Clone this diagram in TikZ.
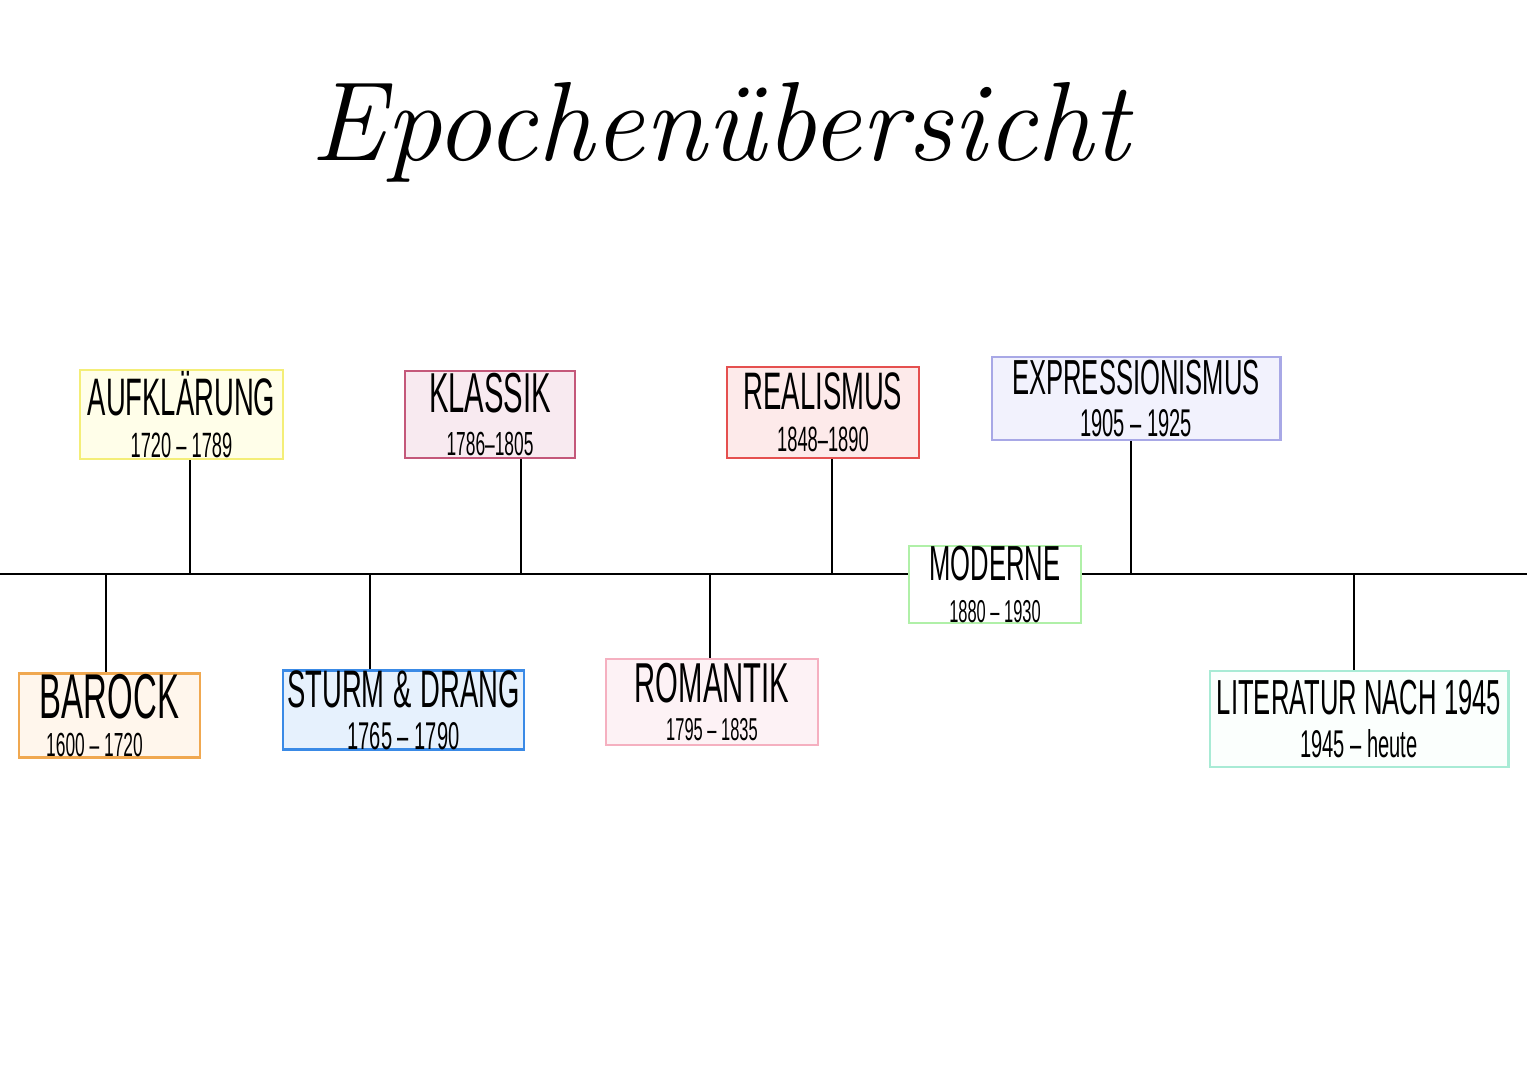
\documentclass[tikz,border=0pt]{standalone}
\usepackage{fontspec}
\newfontfamily\hand{Liberation Sans}[FakeStretch=0.52]
\usetikzlibrary{positioning}

\definecolor{aufklline}{HTML}{F4EE78}
\definecolor{aufklfill}{HTML}{FFFEE9}
\definecolor{klassikline}{HTML}{C4587A}
\definecolor{klassikfill}{HTML}{F8EAF0}
\definecolor{realline}{HTML}{E5504F}
\definecolor{realfill}{HTML}{FDEAEA}
\definecolor{exprline}{HTML}{A8A8E6}
\definecolor{exprfill}{HTML}{F2F2FD}
\definecolor{modline}{HTML}{B0F0A8}
\definecolor{barockline}{HTML}{F0A850}
\definecolor{barockfill}{HTML}{FFF6EC}
\definecolor{sturmline}{HTML}{3A8AE6}
\definecolor{sturmfill}{HTML}{E6F1FD}
\definecolor{romline}{HTML}{F5B0C0}
\definecolor{romfill}{HTML}{FDF2F5}
\definecolor{litline}{HTML}{A8EBD5}
\definecolor{litfill}{HTML}{FBFFFD}

\tikzset{
  epoche/.style={draw,line width=0.8pt,inner sep=0pt,align=center,font=\hand},
  stem/.style={line width=0.6pt}
}

\begin{document}
\begin{tikzpicture}[x=0.01cm,y=-0.01cm]
  \useasboundingbox (0,0) rectangle (1527,1080);

  \node[font=\itshape\fontsize{32}{34}\selectfont] (title) at (720,132) {Epochenübersicht};

  % oben
  \node[epoche,draw=aufklline,fill=aufklfill,minimum width=2.03cm,minimum height=0.89cm] (aufkl) at (181.5,414.5)
    {\fontsize{15}{16}\selectfont AUFKLÄRUNG\\[0pt] \fontsize{10}{10}\selectfont 1720 – 1789};
  \node[epoche,draw=klassikline,fill=klassikfill,minimum width=1.70cm,minimum height=0.87cm] (klassik) at (490,414.5)
    {\fontsize{16}{16}\selectfont KLASSIK\\[0pt] \fontsize{9.5}{10}\selectfont 1786–1805};
  \node[epoche,draw=realline,fill=realfill,minimum width=1.92cm,minimum height=0.91cm] (real) at (823,412.5)
    {\fontsize{15}{16}\selectfont REALISMUS\\[0pt] \fontsize{10}{10}\selectfont 1848–1890};
  \node[epoche,draw=exprline,fill=exprfill,minimum width=2.88cm,minimum height=0.83cm] (expr) at (1136,398.5)
    {\fontsize{14}{15}\selectfont EXPRESSIONISMUS\\[0pt] \fontsize{11}{10}\selectfont 1905 – 1925};

  % mitte
  \node[epoche,draw=modline,fill=white,minimum width=1.72cm,minimum height=0.73cm] (moderne) at (995,584.5)
    {\fontsize{14}{15}\selectfont MODERNE\\[0pt] \fontsize{9}{9}\selectfont 1880 – 1930};

  % unten
  \node[epoche,draw=barockline,fill=barockfill,minimum width=1.81cm,minimum height=0.81cm] (barock) at (109.5,715.5)
    {\fontsize{18}{18}\selectfont BAROCK\\[-1pt] \hspace*{-0.3cm}\fontsize{9.5}{10}\selectfont 1600 – 1720};
  \node[epoche,draw=sturmline,fill=sturmfill,minimum width=2.41cm,minimum height=0.78cm] (sturm) at (403.5,710)
    {\fontsize{15}{16}\selectfont STURM\,\&\,DRANG\\[0pt] \fontsize{11}{11}\selectfont 1765 – 1790};
  \node[epoche,draw=romline,fill=romfill,minimum width=2.12cm,minimum height=0.86cm] (rom) at (712,702)
    {\fontsize{16}{17}\selectfont ROMANTIK\\[-1pt] \fontsize{9}{9}\selectfont 1795 – 1835};
  \node[epoche,draw=litline,fill=litfill,minimum width=2.98cm,minimum height=0.96cm] (lit) at (1359,719)
    {\fontsize{14}{16}\selectfont LITERATUR NACH 1945\\[0pt] \fontsize{11}{11}\selectfont 1945 – heute};

  % zeitstrahl
  \coordinate (links) at (0,574);
  \coordinate (rechts) at (1527,574);
  \draw[stem] (links) -- (moderne.west |- links);
  \draw[stem] (moderne.east |- rechts) -- (rechts);

  \coordinate (t1) at (106,574);
  \coordinate (t2) at (190,574);
  \coordinate (t3) at (370,574);
  \coordinate (t4) at (521,574);
  \coordinate (t5) at (710,574);
  \coordinate (t6) at (832,574);
  \coordinate (t7) at (1131,574);
  \coordinate (t8) at (1354,574);

  \draw[stem] (t1) -- (barock.north -| t1);
  \draw[stem] (t2) -- (aufkl.south -| t2);
  \draw[stem] (t3) -- (sturm.north -| t3);
  \draw[stem] (t4) -- (klassik.south -| t4);
  \draw[stem] (t5) -- (rom.north -| t5);
  \draw[stem] (t6) -- (real.south -| t6);
  \draw[stem] (t7) -- (expr.south -| t7);
  \draw[stem] (t8) -- (lit.north -| t8);
\end{tikzpicture}
\end{document}
